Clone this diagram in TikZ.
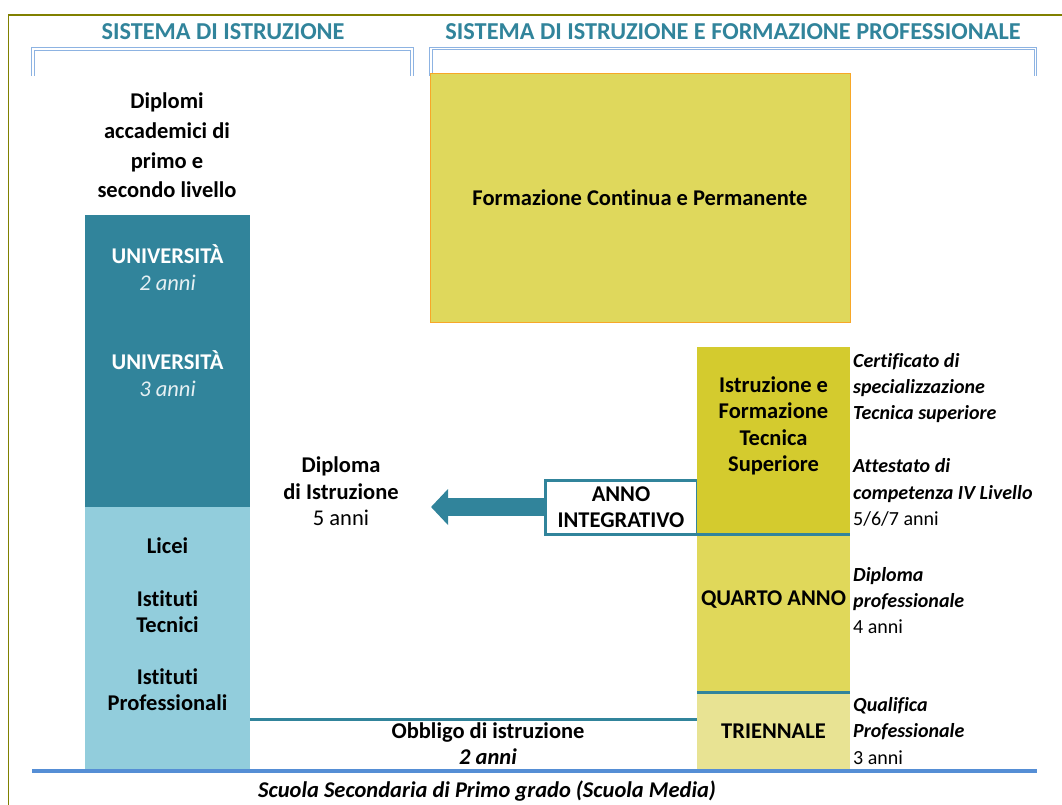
\documentclass[tikz,border=0pt]{standalone}
\usepackage{fontspec}
\setmainfont{Carlito}[Ligatures=CommonOff]
\usetikzlibrary{arrows.meta}
\definecolor{tealc}{RGB}{49,132,155}
\definecolor{lightb}{RGB}{146,205,220}
\definecolor{olivec}{RGB}{128,128,0}
\definecolor{brkc}{RGB}{141,179,226}
\definecolor{baseb}{RGB}{85,142,213}
\definecolor{yelA}{RGB}{223,216,92}
\definecolor{yelB}{RGB}{212,203,46}
\definecolor{yelC}{RGB}{224,216,90}
\definecolor{yelD}{RGB}{232,227,147}
\definecolor{orng}{RGB}{247,167,40}
\begin{document}
\begin{tikzpicture}[x=1pt,y=-1pt,
  body/.style={font=\fontsize{22.5}{26.5}\selectfont\bfseries, align=center, inner sep=0pt},
  dipl/.style={font=\fontsize{22.5}{29.7}\selectfont\bfseries, align=center, inner sep=0pt},
  side/.style={font=\fontsize{20}{26.3}\selectfont\bfseries\itshape, align=left, inner sep=0pt, anchor=west},
  hdr/.style={font=\fontsize{24.3}{28}\selectfont\bfseries, text=tealc, inner sep=0pt},
  unitxt/.style={body, text=white},
  colbox/.style={minimum width=165pt, inner sep=0pt, outer sep=0pt},
  ifbox/.style={minimum width=153pt, inner sep=0pt, outer sep=0pt},
  tline/.style={draw=tealc, line width=3pt},
  brk/.style={draw=brkc, line width=1pt, double=white, double distance=1.6pt},
]
\useasboundingbox (0,0) rectangle (1062,805);
% outer frame
\draw[olivec, line width=1.6pt] (1062,14.8) -- (8.5,14.8) -- (8.5,805);
% headers
\node[hdr] (h1) at (223,32) {SISTEMA DI ISTRUZIONE};
\node[hdr] (h2) at (733,32) {SISTEMA DI ISTRUZIONE E FORMAZIONE PROFESSIONALE};
\draw[brk] (33,76) -- (33,49) -- (412,49) -- (412,76);
\draw[brk] (431,76) -- (431,48.5) -- (1035.5,48.5) -- (1035.5,76);
% left column
\node[dipl] (acc) at (167,145.5) {Diplomi\\accademici di\\primo e\\secondo livello};
\node[colbox, fill=tealc, minimum height=292pt] (uni) at (167.5,361) {};
\node[colbox, fill=lightb, minimum height=263pt] (lb) at (167.5,638.5) {};
\node[unitxt] (u2) at (167.5,267.5) {UNIVERSITÀ\\{\mdseries\itshape\color{white!88!tealc}2 anni}};
\node[unitxt] (u3) at (167.5,373.5) {UNIVERSITÀ\\{\mdseries\itshape\color{white!88!tealc}3 anni}};
\node[body] (licei) at (167.5,546) {Licei};
\node[body] (tec) at (167.5,611.5) {Istituti\\Tecnici};
\node[body] (prof) at (167.5,689.5) {Istituti\\Professionali};
% right column
\node[fill=yelA, draw=orng, line width=1pt, minimum width=420pt, minimum height=248pt, body] (fcp) at (640,198) {Formazione Continua e Permanente};
\node[draw=tealc, line width=3pt, fill=white, minimum width=152pt, minimum height=54pt, outer sep=0pt, body] (anno) at (621,507) {ANNO\\INTEGRATIVO};
\node[ifbox, fill=yelB, minimum height=186pt] (ifts) at (773.5,440) {};
\node[ifbox, fill=yelC, minimum height=159pt] (quarto) at (773.5,612.5) {};
\node[ifbox, fill=yelD, minimum height=78pt] (trien) at (773.5,731) {};
\node[body] (iftst) at (773.5,426) {Istruzione e\\Formazione\\Tecnica\\Superiore};
\node[body] (quartot) at (773.5,599.5) {QUARTO ANNO};
\node[body] (trient) at (773.5,731) {TRIENNALE};
\draw[tline] (anno.south east) -- (anno.south east -| quarto.east);
\draw[tline] (trien.north west) -- (trien.north east);
% side labels
\node[side] (cert) at (853,388) {Certificato di\\specializzazione\\Tecnica superiore};
\node[side] (att) at (853,492.5) {Attestato di\\competenza IV Livello\\{\mdseries\upshape 5/6/7 anni}};
\node[side] (dp) at (853,600.5) {Diploma\\professionale\\{\mdseries\upshape 4 anni}};
\node[side] (qp) at (853,731) {Qualifica\\Professionale\\{\mdseries\upshape 3 anni}};
% diploma di istruzione + arrow
\node[body] (di) at (341,491.5) {Diploma\\di Istruzione\\{\mdseries 5 anni}};
\coordinate (tip) at (431,507);
\draw[tealc, line width=18pt, -{Triangle[length=17pt 0 0, width=35pt 0 0]}] (anno.west) -- (tip);
% obbligo
\draw[tline] (lb.east |- 0,719) -- (trien.west |- 0,719);
\node[body] (obb) at (488,743.5) {Obbligo di istruzione\\{\itshape 2 anni}};
% base line
\draw[baseb, line width=3.5pt] (32,771) -- (1037,771);
\node[body, font=\fontsize{22.5}{26.5}\selectfont\bfseries\itshape] (media) at (487,791) {Scuola Secondaria di Primo grado (Scuola Media)};
\end{tikzpicture}
\end{document}
